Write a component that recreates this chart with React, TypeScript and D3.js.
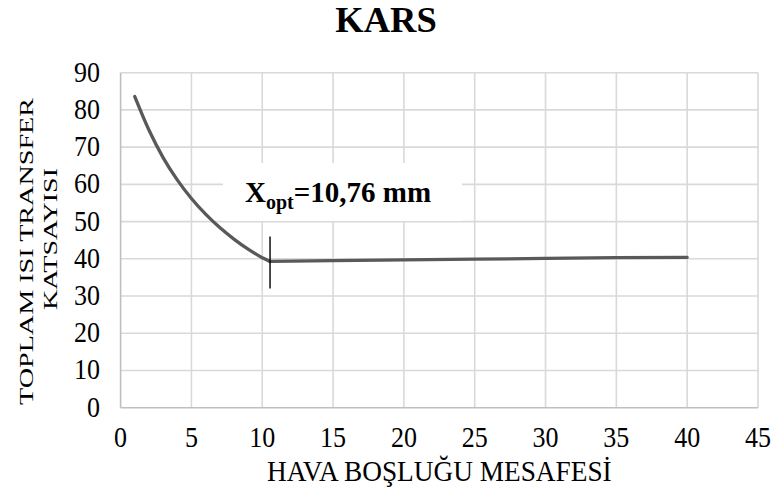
import React from "react";
import * as d3 from "d3";

const TITLE = "KARS";
const X_TITLE = "HAVA BOŞLUĞU MESAFESİ";
const Y_TITLE_1 = "TOPLAM ISI TRANSFER";
const Y_TITLE_2 = "KATSAYISI";
const X_TICKS = [0, 5, 10, 15, 20, 25, 30, 35, 40, 45];
const Y_TICKS = [0, 10, 20, 30, 40, 50, 60, 70, 80, 90];

// descending part up to the optimum
const curveX = [1, 2, 3, 4, 5, 6, 7, 8, 9, 10, 10.55];
const curveY = [83.6, 74.6, 67.2, 61.2, 56.2, 52.0, 48.4, 45.3, 42.6, 40.3, 39.3];
// nearly flat part after the optimum
const flatX = [10.55, 15, 20, 25, 30, 35, 40];
const flatY = [39.3, 39.5, 39.7, 39.9, 40.1, 40.3, 40.4];

const X_OPT = 10.55;
const MARK_LOW = 32;
const MARK_HIGH = 46;

const W = 773;
const H = 493;
const M = { left: 120.6, right: 758, top: 72.7, bottom: 407.7 };
const FONT = "'Times New Roman', 'Liberation Serif', serif";

export default function App() {
  const x = d3.scaleLinear().domain([0, 45]).range([M.left, M.right]);
  const y = d3.scaleLinear().domain([0, 90]).range([M.bottom, M.top]);

  const curvePts: [number, number][] = curveX.map((v, i) => [v, curveY[i]]);
  const flatPts: [number, number][] = flatX.map((v, i) => [v, flatY[i]]);

  const curveLine = d3
    .line<[number, number]>()
    .x((d) => x(d[0]))
    .y((d) => y(d[1]))
    .curve(d3.curveMonotoneX);
  const flatLine = d3
    .line<[number, number]>()
    .x((d) => x(d[0]))
    .y((d) => y(d[1]));

  const grid = "#d9d9d9";
  const axisCol = "#bfbfbf";

  return (
    <svg
      width={W}
      height={H}
      style={{ position: "absolute", left: 0, top: 0, background: "#fff" }}
      fontFamily={FONT}
    >
      <rect x={0} y={0} width={W} height={H} fill="#fff" />
      {Y_TICKS.filter((t) => t > 0).map((t) => (
        <line
          key={"gy" + t}
          x1={M.left}
          x2={M.right}
          y1={y(t)}
          y2={y(t)}
          stroke={grid}
          strokeWidth={1.6}
        />
      ))}
      {X_TICKS.filter((t) => t > 0).map((t) => (
        <line
          key={"gx" + t}
          x1={x(t)}
          x2={x(t)}
          y1={M.top}
          y2={M.bottom}
          stroke={grid}
          strokeWidth={1.6}
        />
      ))}
      <line x1={M.left} x2={M.left} y1={M.top} y2={M.bottom} stroke={axisCol} strokeWidth={1.6} />
      <line x1={M.left} x2={M.right} y1={M.bottom} y2={M.bottom} stroke={axisCol} strokeWidth={1.6} />

      <rect x={223} y={163} width={239} height={58} fill="#fff" />
      <text x={245} y={202} fontSize={29} fontWeight="bold" fill="#000">
        X
        <tspan fontSize={20} dy={7}>opt</tspan>
        <tspan dy={-7}>=10,76 mm</tspan>
      </text>

      <path
        d={curveLine(curvePts) || ""}
        fill="none"
        stroke="#595959"
        strokeWidth={3.3}
        strokeLinecap="round"
        strokeLinejoin="round"
      />
      <path
        d={flatLine(flatPts) || ""}
        fill="none"
        stroke="#595959"
        strokeWidth={3.3}
        strokeLinecap="round"
        strokeLinejoin="round"
      />
      <line
        x1={x(X_OPT)}
        x2={x(X_OPT)}
        y1={y(MARK_LOW)}
        y2={y(MARK_HIGH)}
        stroke="#000"
        strokeWidth={1.4}
      />

      {Y_TICKS.map((t) => (
        <text
          key={"ty" + t}
          transform={`translate(100,${y(t) + 9}) scale(1,1.1)`}
          textAnchor="end"
          fontSize={26}
          fill="#000"
        >
          {t}
        </text>
      ))}
      {X_TICKS.map((t) => (
        <text
          key={"tx" + t}
          transform={`translate(${x(t)},447) scale(1,1.1)`}
          textAnchor="middle"
          fontSize={26}
          fill="#000"
        >
          {t}
        </text>
      ))}

      <text x={386} y={32} textAnchor="middle" fontSize={36.5} fontWeight="bold" fill="#000">
        {TITLE}
      </text>
      <text
        transform={`translate(${(M.left + M.right) / 2},481) scale(1,1.1)`}
        textAnchor="middle"
        fontSize={27.3}
        fill="#000"
      >
        {X_TITLE}
      </text>
      <text
        transform="translate(33.3,251.5) rotate(-90)"
        textAnchor="middle"
        fontSize={19}
        textLength={307}
        lengthAdjust="spacingAndGlyphs"
        fill="#000"
      >
        {Y_TITLE_1}
      </text>
      <text
        transform="translate(57,239) rotate(-90)"
        textAnchor="middle"
        fontSize={19}
        textLength={142}
        lengthAdjust="spacingAndGlyphs"
        fill="#000"
      >
        {Y_TITLE_2}
      </text>
    </svg>
  );
}
